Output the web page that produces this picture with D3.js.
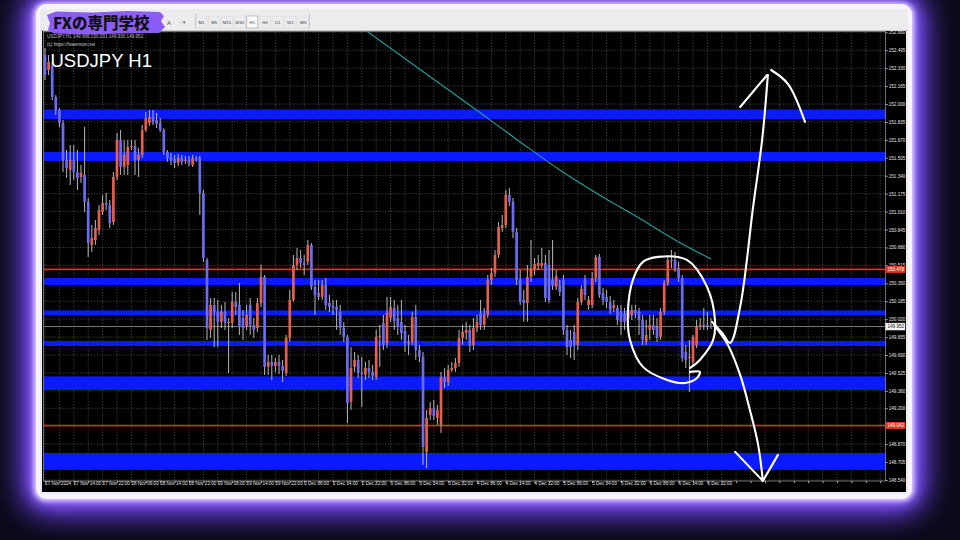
<!DOCTYPE html>
<html><head><meta charset="utf-8">
<script src="https://cdn.jsdelivr.net/npm/d3@7/dist/d3.min.js"></script>
<style>html,body{margin:0;padding:0;background:#0b0a18;overflow:hidden}svg{display:block}</style>
</head><body><svg id="chart" width="960" height="540"></svg>
<script>
// ---------------- DATA ----------------
const symbolTitle = "USDJPY H1";
const logoText = "FXの専門学校";
const copyrightText = "(c) https://fxsenmon.net";
const infoText = "USDJPY,H1  149.966 150.031 149.930 149.952";
const periods = ["M1","M5","M15","M30","H1","H4","D1","W1","MN"];

const timeLabels = ["27 Nov 2024","27 Nov 14:00","27 Nov 22:00","28 Nov 06:00","28 Nov 14:00","28 Nov 22:00",
 "29 Nov 06:00","29 Nov 14:00","29 Nov 22:00","2 Dec 06:00","2 Dec 14:00","2 Dec 22:00","3 Dec 06:00",
 "3 Dec 14:00","3 Dec 22:00","4 Dec 06:00","4 Dec 14:00","4 Dec 22:00","5 Dec 06:00","5 Dec 14:00",
 "5 Dec 22:00","6 Dec 06:00","6 Dec 14:00","6 Dec 22:00"];

const priceTicks = [152.660,152.495,152.330,152.165,152.000,151.835,151.670,151.505,151.340,151.175,151.010,
 150.845,150.680,150.515,150.350,150.185,150.020,149.855,149.690,149.525,149.360,149.200,149.035,148.870,148.705,148.540];

const open = [
152.451,152.313,152.359,152.065,151.945,151.825,151.485,151.393,151.485,151.375,
151.329,151.347,151.099,150.703,150.749,150.841,151.007,151.089,151.071,150.915,
151.329,151.669,151.421,151.439,151.605,151.614,151.485,151.531,151.761,151.825,
151.881,151.853,151.825,151.761,151.559,151.513,151.494,151.457,151.503,151.476,
151.485,151.439,151.503,151.503,151.181,150.565,149.921,150.151,150.087,149.995,
150.087,149.985,149.985,150.179,150.151,150.031,149.958,150.151,149.967,149.939,
150.169,150.409,149.581,149.627,149.590,149.627,149.590,149.525,149.847,150.197,
150.519,150.583,150.537,150.547,150.703,150.317,150.261,150.225,150.335,150.169,
150.142,150.133,150.087,149.939,149.857,149.259,149.581,149.645,149.525,149.507,
149.571,149.535,149.489,149.857,149.985,149.801,150.031,150.123,150.031,149.995,
149.912,149.801,149.811,150.041,149.737,149.673,148.799,149.139,149.203,149.111,
149.038,149.489,149.443,149.553,149.571,149.617,149.847,149.893,149.921,149.783,
149.939,150.077,149.967,150.059,150.381,150.445,150.611,150.859,150.887,151.163,
151.099,150.823,150.381,150.197,150.169,150.409,150.473,150.510,150.510,150.537,
150.519,150.381,150.317,150.335,150.381,149.921,149.829,149.903,149.783,150.179,
150.381,150.151,150.151,150.399,150.593,150.261,150.225,150.179,150.123,150.123,
150.087,150.068,150.031,150.059,150.105,150.087,150.013,149.811,149.921,149.967,
149.949,149.857,150.087,150.353,150.565,150.565,150.491,150.399,149.719,149.663,
149.627,149.783,149.949,149.967,149.967,149.958];

const high = [
152.515,152.451,152.387,152.083,151.963,151.853,151.577,151.623,151.623,151.577,
151.439,151.789,151.135,150.887,150.933,151.071,151.163,151.181,151.117,151.375,
151.733,151.761,151.669,151.669,151.669,151.669,151.595,151.807,151.927,151.945,
151.945,151.917,151.871,151.779,151.577,151.549,151.531,151.540,151.531,151.522,
151.522,151.531,151.522,151.522,151.209,150.583,150.215,150.215,150.197,150.151,
150.179,150.031,150.271,150.271,150.353,150.105,150.151,150.215,150.031,150.215,
150.519,150.427,149.691,149.691,149.663,149.691,149.645,149.875,150.289,150.611,
150.675,150.657,150.611,150.749,150.721,150.381,150.381,150.381,150.399,150.243,
150.197,150.197,150.151,149.995,149.875,149.764,149.719,149.691,149.673,149.627,
149.645,149.599,149.921,149.967,150.059,150.225,150.225,150.197,150.151,150.197,
149.967,149.875,150.087,150.151,149.783,149.719,149.185,149.259,149.277,149.231,
149.535,149.571,149.599,149.627,149.663,149.921,149.967,149.995,149.967,150.031,
150.059,150.197,150.123,150.427,150.491,150.657,150.915,150.979,151.209,151.227,
151.135,150.859,150.473,150.289,150.519,150.749,150.583,150.611,150.675,150.611,
150.657,150.749,150.473,150.381,150.427,149.967,149.921,149.967,150.215,150.335,
150.427,150.234,150.454,150.611,150.620,150.307,150.289,150.234,150.197,150.151,
150.151,150.123,150.151,150.151,150.151,150.123,150.059,150.013,150.059,150.059,
150.031,150.123,150.381,150.602,150.657,150.639,150.547,150.427,149.783,149.829,
149.875,150.013,150.031,150.123,150.087,150.031];

const low = [
152.221,152.267,152.037,151.899,151.789,151.375,151.319,151.255,151.301,151.209,
151.273,151.007,150.593,150.639,150.703,150.795,150.979,151.025,150.859,150.887,
151.301,151.347,151.347,151.347,151.577,151.347,151.329,151.503,151.743,151.798,
151.807,151.779,151.743,151.531,151.467,151.439,151.411,151.429,151.439,151.448,
151.429,151.421,151.467,150.979,150.547,149.829,149.847,149.764,149.764,149.939,
149.921,149.525,149.939,150.059,149.875,149.829,149.921,149.875,149.847,149.903,
150.133,149.507,149.507,149.461,149.535,149.516,149.443,149.498,149.811,150.179,
150.473,150.491,150.427,150.519,150.289,150.059,150.197,150.197,150.105,150.087,
150.059,149.921,149.875,149.811,149.065,149.185,149.535,149.479,149.213,149.461,
149.479,149.461,149.461,149.581,149.737,149.755,149.995,149.921,149.875,149.829,
149.719,149.691,149.783,149.645,149.627,148.679,148.651,149.093,149.093,149.047,
148.973,149.387,149.406,149.535,149.535,149.581,149.783,149.829,149.719,149.737,
149.903,149.921,149.921,150.031,150.335,150.409,150.583,150.823,150.859,151.062,
150.767,150.335,150.151,149.995,149.995,150.363,150.427,150.473,150.491,150.179,
150.169,150.289,150.289,150.234,149.875,149.691,149.663,149.645,149.737,150.151,
150.197,150.105,150.123,150.363,150.215,150.151,150.123,150.068,150.087,149.967,
149.875,149.921,149.967,150.013,150.031,149.875,149.783,149.783,149.829,149.875,
149.811,149.829,150.059,150.326,150.491,150.455,150.363,149.627,149.571,149.351,
149.581,149.755,149.921,149.921,149.921,149.930];

const close = [
152.267,152.387,152.065,151.945,151.825,151.485,151.411,151.485,151.375,151.319,
151.365,151.099,150.721,150.767,150.859,151.025,151.089,151.071,150.905,151.329,
151.669,151.421,151.531,151.605,151.614,151.485,151.531,151.761,151.871,151.881,
151.835,151.816,151.761,151.559,151.503,151.485,151.457,151.503,151.467,151.485,
151.457,151.503,151.494,151.181,150.583,149.939,150.151,150.087,149.995,150.087,
149.985,149.995,150.179,150.133,149.949,149.939,150.059,149.967,149.921,150.169,
150.409,149.581,149.627,149.590,149.627,149.590,149.544,149.847,150.197,150.519,
150.583,150.537,150.519,150.703,150.317,150.243,150.225,150.335,150.151,150.133,
150.123,150.105,149.939,149.857,149.249,149.571,149.645,149.525,149.516,149.571,
149.535,149.498,149.857,149.866,149.783,150.077,150.133,150.004,149.949,149.893,
149.801,149.811,150.041,149.737,149.673,148.845,149.111,149.203,149.129,149.185,
149.489,149.443,149.553,149.571,149.617,149.847,149.903,149.921,149.774,149.939,
149.995,149.967,150.059,150.381,150.445,150.611,150.869,150.887,151.163,151.099,
150.823,150.381,150.179,150.169,150.409,150.473,150.528,150.537,150.537,150.215,
150.197,150.325,150.418,150.271,149.921,149.764,149.764,149.783,150.179,150.298,
150.243,150.197,150.399,150.593,150.243,150.197,150.179,150.105,150.151,150.013,
149.995,149.995,150.105,150.105,150.077,150.013,149.829,149.875,149.967,149.921,
149.847,150.087,150.353,150.565,150.556,150.491,150.399,149.663,149.645,149.673,
149.857,149.949,149.967,149.960,149.958,149.952];

// horizontal zones (blue) as [low, high] prices
const zoneLow  = [151.862,151.476,150.335,150.054,149.774,149.369,148.633];
const zoneHigh = [151.950,151.559,150.399,150.100,149.820,149.493,148.789];
// red horizontal levels
const redLevels = [150.478,149.042];
const currentPrice = 149.952;

// moving average (teal) sampled at bars
const maBar   = [88,104,121,132,143,154,165,176,185];
const maValue = [152.704,152.322,151.917,151.651,151.393,151.163,150.951,150.731,150.574];

// hand-drawn annotations: [bar, price]
const loopPath = [[179.2,149.571],[181.9,149.645],[185.6,149.829],[186.1,150.013],[183.9,150.317],[178.3,150.565],
 [170.3,150.593],[166.1,150.547],[163.3,150.381],[161.9,150.077],[162.5,149.829],[166.1,149.581],[172.8,149.461],
 [177.8,149.433],[181.1,149.479],[181.9,149.535],[179.2,149.535]];
const upShaft = [[185.3,149.995],[188.1,149.893],[190.3,149.801],[193.1,150.133],[196.7,151.053],[199.2,151.669],[200.8,152.267]];
const upBarbLeft = [[193.1,151.973],[200.6,152.267]];
const upBarbRight = [[201.7,152.313],[206.4,152.184],[211.1,151.835]];
const downShaft = [[185.8,149.967],[189.7,149.783],[193.1,149.507],[195.8,149.185],[198.1,148.863],[199.4,148.532]];
const downBarbs = [[191.7,148.799],[199.4,148.532],[203.6,148.771]];

// ---------------- DRAW ----------------
const svg = d3.select('#chart');
const defs = svg.append('defs');
function blur(id, s){ const f = defs.append('filter').attr('id',id).attr('x','-20%').attr('y','-20%').attr('width','140%').attr('height','140%');
  f.append('feGaussianBlur').attr('stdDeviation', s); }
blur('gBig', 16); blur('gMid', 7); blur('gSm', 2.5);
defs.append('clipPath').attr('id','plotClip').append('rect').attr('x',43.5).attr('y',31.5).attr('width',842).attr('height',449.5);

svg.append('rect').attr('width',960).attr('height',540).attr('fill','#0b0a18');
// glow
svg.append('rect').attr('x',28).attr('y',-4).attr('width',892).attr('height',512).attr('rx',18).attr('fill','#6a3cff').attr('filter','url(#gBig)');
svg.append('rect').attr('x',28).attr('y',-4).attr('width',892).attr('height',512).attr('rx',18).attr('fill','#7a4cff').attr('filter','url(#gBig)').attr('opacity',0.8);
svg.append('rect').attr('x',32).attr('y',1).attr('width',884).attr('height',502).attr('rx',14).attr('fill','#9a70ff').attr('filter','url(#gMid)');
svg.append('rect').attr('x',34).attr('y',3).attr('width',880).attr('height',498).attr('rx',12).attr('fill','#e6dbff').attr('filter','url(#gSm)');
// white frame + window
svg.append('rect').attr('x',36).attr('y',4).attr('width',876).attr('height',495).attr('rx',11).attr('fill','#f7f4ff');
svg.append('rect').attr('x',40).attr('y',9).attr('width',868).attr('height',485).attr('rx',2).attr('fill','#ececee');
// toolbar
const tb = svg.append('g');
tb.append('line').attr('x1',40).attr('x2',908).attr('y1',30.5).attr('y2',30.5).attr('stroke','#c8c8c8');
tb.append('text').attr('x',167).attr('y',25).attr('font-family','Liberation Sans').attr('font-size',6).attr('fill','#555').text('A');
tb.append('text').attr('x',179).attr('y',24).attr('font-family','Liberation Sans').attr('font-size',5).attr('fill','#666').text('⁘▾');
tb.append('line').attr('x1',195.5).attr('x2',195.5).attr('y1',14).attr('y2',28).attr('stroke','#c4c4c4');
periods.forEach((p,k)=>{
  const cx = 201.5 + k*12.7;
  tb.append('rect').attr('x',cx-5.5).attr('y',16).attr('width',11).attr('height',12).attr('fill',p==='H1'?'#fbfbfb':'none')
    .attr('stroke',p==='H1'?'#9a9a9a':'#dadada').attr('stroke-width',0.6);
  tb.append('text').attr('x',cx).attr('y',23.6).attr('text-anchor','middle').attr('font-family','Liberation Sans')
    .attr('font-size',4.4).attr('fill','#444').text(p);
});
tb.append('line').attr('x1',309.5).attr('x2',309.5).attr('y1',14).attr('y2',28).attr('stroke','#c4c4c4');

// chart background
svg.append('rect').attr('x',42).attr('y',31).attr('width',864).attr('height',461).attr('fill','#000');

const x = d3.scaleLinear().domain([0,185]).range([45, 45+3.6*185]);
const y = d3.scaleLinear().domain([148.54,152.66]).range([480,32.3]);

// grid
const gridBars = d3.range(0, 234, 4);
const grid = svg.append('g').attr('stroke','#6f6f6f').attr('stroke-width',0.6).attr('stroke-dasharray','1.2,1.6');
grid.selectAll('line.v').data(gridBars).join('line').attr('x1',d=>x(d)).attr('x2',d=>x(d)).attr('y1',31.5).attr('y2',481);
grid.selectAll('line.h').data(priceTicks).join('line').attr('x1',43.5).attr('x2',885.5).attr('y1',d=>y(d)).attr('y2',d=>y(d));

// zones
svg.append('g').selectAll('rect').data(zoneLow).join('rect')
  .attr('x',43.5).attr('width',842).attr('y',(d,k)=>y(zoneHigh[k])).attr('height',(d,k)=>y(zoneLow[k])-y(zoneHigh[k]))
  .attr('fill','#0b1bff');
// red lines
svg.append('g').selectAll('line').data(redLevels).join('line').attr('x1',43.5).attr('x2',885.5)
  .attr('y1',d=>y(d)).attr('y2',d=>y(d)).attr('stroke','#d8301c').attr('stroke-width',1.6);
// current price line
svg.append('line').attr('x1',43.5).attr('x2',885.5).attr('y1',y(currentPrice)).attr('y2',y(currentPrice))
  .attr('stroke','#9a9a9a').attr('stroke-width',0.8);

// MA
const plot = svg.append('g').attr('clip-path','url(#plotClip)');
plot.append('path').datum(maBar.map((b,k)=>[b,maValue[k]]))
  .attr('d', d3.line().x(d=>x(d[0])).y(d=>y(d[1])).curve(d3.curveMonotoneX))
  .attr('fill','none').attr('stroke','#259f9c').attr('stroke-width',1.1);

// candles
const bars = open.map((o,i)=>({i,o,h:high[i],l:low[i],c:close[i]}));
plot.selectAll('line.wick').data(bars).join('line').attr('class','wick')
  .attr('x1',d=>x(d.i)).attr('x2',d=>x(d.i)).attr('y1',d=>y(d.h)).attr('y2',d=>y(d.l))
  .attr('stroke','#cdcdcd').attr('stroke-width',0.9);
plot.selectAll('rect.body').data(bars).join('rect').attr('class','body')
  .attr('x',d=>x(d.i)-1.35).attr('width',2.7)
  .attr('y',d=>y(Math.max(d.o,d.c))).attr('height',d=>Math.max(0.9, Math.abs(y(d.o)-y(d.c))))
  .attr('fill',d=>Math.abs(d.c-d.o)<0.004?'#cdcdcd':(d.c>d.o?'#e2604c':'#6b6bf3'));

// plot border
svg.append('rect').attr('x',43.5).attr('y',31.5).attr('width',842).attr('height',449.5).attr('fill','none')
  .attr('stroke','#8a8a8a').attr('stroke-width',0.8);

// price axis
const yAxis = svg.append('g').attr('transform','translate(885.5,0)')
  .call(d3.axisRight(y).tickValues(priceTicks).tickFormat(d3.format('.3f')).tickSize(2.2).tickPadding(1));
yAxis.select('.domain').remove();
yAxis.selectAll('line').attr('stroke','#aaa');
yAxis.selectAll('text').attr('font-family','Liberation Sans').attr('font-size',4.6).attr('fill','#e2e2e2');

// time axis
const xAxis = svg.append('g').attr('transform','translate(0,481)')
  .call(d3.axisBottom(x).tickValues(gridBars).tickSize(2.2)
    .tickFormat(b => (b%8===0 && b/8 < timeLabels.length) ? timeLabels[b/8] : ''));
xAxis.select('.domain').remove();
xAxis.selectAll('line').attr('stroke','#aaa');
xAxis.selectAll('text').attr('text-anchor','start').attr('dx',-0.5).attr('dy',-1.2)
  .attr('font-family','Liberation Sans').attr('font-size',4.6).attr('fill','#e2e2e2');

// level labels on axis
redLevels.forEach(v=>{
  svg.append('rect').attr('x',885.5).attr('y',y(v)-3.5).attr('width',20).attr('height',7).attr('fill','#e0361f');
  svg.append('text').attr('x',887.5).attr('y',y(v)+1.6).attr('font-family','Liberation Sans').attr('font-size',4.6)
    .attr('fill','#fff').text(d3.format('.3f')(v));
});
svg.append('rect').attr('x',885.5).attr('y',y(currentPrice)-3.5).attr('width',19.5).attr('height',7)
  .attr('fill','#f4f4f4').attr('stroke','#ccc').attr('stroke-width',0.5);
svg.append('text').attr('x',887.5).attr('y',y(currentPrice)+1.6).attr('font-family','Liberation Sans').attr('font-size',4.6)
  .attr('fill','#222').text(d3.format('.3f')(currentPrice));

// texts on chart
svg.append('text').attr('x',47).attr('y',37.5).attr('font-family','Liberation Sans').attr('font-size',4.6).attr('fill','#bdbdbd').text(infoText);
svg.append('text').attr('x',47).attr('y',45.5).attr('font-family','Liberation Sans').attr('font-size',4.6).attr('fill','#cfcfcf').text(copyrightText);
svg.append('text').attr('x',50.5).attr('y',67).attr('font-family','Liberation Sans').attr('font-size',18.5).attr('fill','#fff').text(symbolTitle);

// annotations
const ln = d3.line().x(d=>x(d[0])).y(d=>y(d[1]));
const ann = svg.append('g').attr('fill','none').attr('stroke','#ffffff').attr('stroke-width',2.1)
  .attr('stroke-linecap','round').attr('stroke-linejoin','round');
ann.append('path').attr('d', ln.curve(d3.curveCatmullRom.alpha(0.5))(loopPath));
ann.append('path').attr('d', ln.curve(d3.curveCatmullRom.alpha(0.5))(upShaft));
ann.append('path').attr('d', ln.curve(d3.curveLinear)(upBarbLeft));
ann.append('path').attr('d', ln.curve(d3.curveCatmullRom.alpha(0.5))(upBarbRight));
ann.append('path').attr('d', ln.curve(d3.curveCatmullRom.alpha(0.5))(downShaft));
ann.append('path').attr('d', ln.curve(d3.curveLinear)(downBarbs));

// logo
const logo = svg.append('g');
logo.append('path').attr('d','M47,15 L56,11.5 L92,12.5 L128,11 L160,12 L164,16 L161,21 L165,27 L159,33 L122,33.5 L86,34.5 L54,33.5 L48,30 L50,23 Z')
  .attr('fill','#8c5cf7');
logo.append('text').attr('x',53).attr('y',28.5).attr('font-family','"Noto Sans CJK JP"').attr('font-weight',900)
  .attr('font-size',15.5).attr('fill','#111').text(logoText);
</script>
</body></html>
